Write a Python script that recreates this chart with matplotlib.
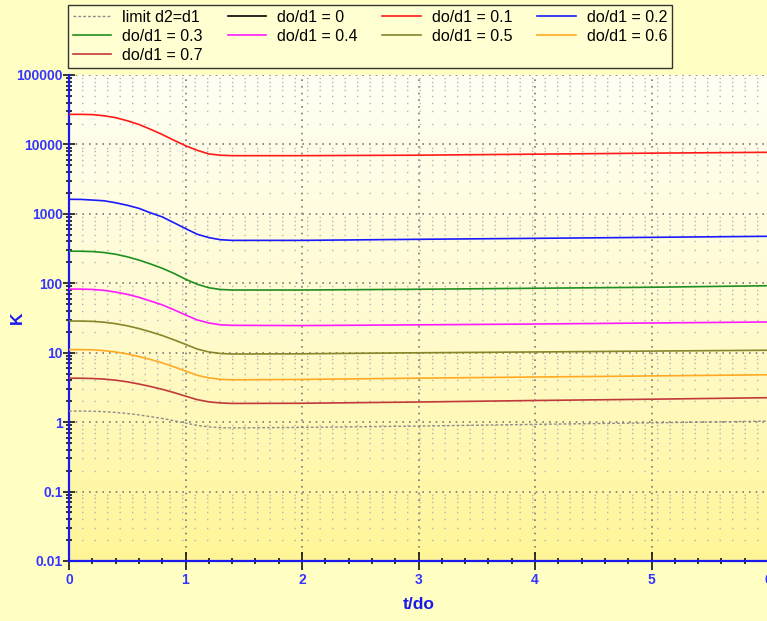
#!/usr/bin/env python3
from matplotlib import pyplot as plt
from matplotlib.colors import LinearSegmentedColormap
from matplotlib.ticker import LogLocator, FuncFormatter, MultipleLocator
import numpy as np

plt.rcParams['font.family'] = ['Liberation Sans', 'DejaVu Sans']

# t/do sample points
t_do = [0, 0.1, 0.2, 0.3, 0.4, 0.5, 0.6, 0.7, 0.8, 0.9, 1.0, 1.1, 1.2, 1.3, 1.4, 2, 3, 4, 5, 6]

k_limit = [1.44, 1.443, 1.435, 1.416, 1.38, 1.332, 1.27, 1.201, 1.13, 1.051, 0.97, 0.899, 0.855, 0.833, 0.826,
           0.84, 0.878, 0.929, 0.977, 1.034]
k_00 = []  # do/d1 = 0 is off the chart
k_01 = [27100, 27100, 26900, 25900, 24300, 21950, 19400, 16500, 13900, 11500, 9600, 8230, 7300, 6990, 6890,
        6890, 7000, 7240, 7490, 7700]
k_02 = [1620, 1615, 1580, 1544, 1445, 1330, 1200, 1034, 905, 746, 614, 509, 455, 424, 415,
        415, 430, 444, 459, 475]
k_03 = [290, 289.5, 286.5, 277.5, 262, 240.8, 216, 189.7, 164.5, 139.2, 114.6, 96.9, 86.3, 81.4, 80,
        80, 82, 84.8, 87.7, 92.2]
k_04 = [82.6, 82.4, 81.5, 79.2, 74.7, 69.4, 62.8, 55.5, 48.9, 41.6, 35.0, 29.7, 26.8, 25.2, 24.8,
        24.6, 25.2, 25.9, 26.8, 27.7]
k_05 = [28.6, 28.56, 28.3, 27.5, 26.2, 24.4, 22.3, 19.95, 17.7, 15.35, 13.2, 11.3, 10.25, 9.74, 9.59,
        9.65, 9.98, 10.25, 10.56, 10.85]
k_06 = [11.1, 11.08, 11.0, 10.72, 10.25, 9.60, 8.82, 7.98, 7.14, 6.27, 5.45, 4.74, 4.33, 4.14, 4.07,
        4.12, 4.30, 4.47, 4.63, 4.81]
k_07 = [4.30, 4.29, 4.25, 4.17, 4.02, 3.81, 3.54, 3.26, 2.97, 2.67, 2.37, 2.11, 1.96, 1.89, 1.86,
        1.87, 1.95, 2.05, 2.14, 2.25]

blue = '#1a1aee'
tick_blue = '#3535ff'

fig = plt.figure(figsize=(7.67, 6.21), dpi=100)
fig.patch.set_facecolor('#ffffc4')
ax = fig.add_axes([69/767, 60/621, 699/767, 486/621])

# pale gradient behind the plot
grad = np.linspace(0, 1, 256).reshape(-1, 1)
cmap = LinearSegmentedColormap.from_list('bg', ['#fff597', '#fffbd0', '#fffff4'])
ax.imshow(grad, cmap=cmap, extent=[0, 1, 0, 1], transform=ax.transAxes,
          aspect='auto', origin='lower', zorder=0)

h = []
h += ax.plot(t_do, k_limit, color='#8c8c8c', lw=1.0, ls=(0, (2, 1.5)), label='limit d2=d1', zorder=3)
h += ax.plot(k_00, k_00, color='black', lw=1.2, label='do/d1 = 0')
h += ax.plot(t_do, k_01, color='#ff1a1a', lw=1.2, label='do/d1 = 0.1', zorder=3)
h += ax.plot(t_do, k_02, color='#1a1aff', lw=1.2, label='do/d1 = 0.2', zorder=3)
h += ax.plot(t_do, k_03, color='#1f8f1f', lw=1.2, label='do/d1 = 0.3', zorder=3)
h += ax.plot(t_do, k_04, color='#ff1aff', lw=1.2, label='do/d1 = 0.4', zorder=3)
h += ax.plot(t_do, k_05, color='#86862a', lw=1.2, label='do/d1 = 0.5', zorder=3)
h += ax.plot(t_do, k_06, color='#ffaa22', lw=1.2, label='do/d1 = 0.6', zorder=3)
h += ax.plot(t_do, k_07, color='#c03a3a', lw=1.2, label='do/d1 = 0.7', zorder=3)

ax.set_yscale('log')
ax.set_xlim(0, 6)
ax.set_ylim(0.01, 100000)
ax.xaxis.set_major_locator(MultipleLocator(1))
ax.xaxis.set_minor_locator(MultipleLocator(0.2))
ax.yaxis.set_major_locator(LogLocator(base=10, numticks=20))
ax.yaxis.set_minor_locator(LogLocator(base=10, subs=np.arange(2, 10), numticks=100))
ax.yaxis.set_major_formatter(FuncFormatter(lambda v, p: '%g' % v))
ax.yaxis.set_minor_formatter(FuncFormatter(lambda v, p: ''))

ax.grid(True, which='major', color='#7a7a7a', ls=(0, (1, 3)), lw=1.2, zorder=1)
ax.grid(True, which='minor', axis='y', color='#b4b4b4', ls=(0, (1, 8)), lw=1.0, zorder=1)
ax.set_axisbelow(True)

for s in ['top', 'right']:
	ax.spines[s].set_visible(False)
for s in ['left', 'bottom']:
	ax.spines[s].set_color(blue)
	ax.spines[s].set_linewidth(1.6)

ax.tick_params(axis='both', which='both', direction='inout', color='black', width=1.1)
ax.tick_params(axis='x', which='major', length=13, pad=2.5)
ax.tick_params(axis='x', which='minor', length=5)
ax.tick_params(axis='y', which='major', length=9, pad=0)
ax.tick_params(axis='y', which='minor', length=5)
ax.tick_params(axis='both', which='major', labelcolor=tick_blue, labelsize=10)
for lb in ax.get_xticklabels() + ax.get_yticklabels():
	lb.set_fontweight('bold')

ax.set_xlabel('t/do', color=blue, fontsize=12.5, fontweight='bold')
ax.set_ylabel('K', color=blue, fontsize=12.5, fontweight='bold')
ax.xaxis.set_label_coords(0.5, -0.075)
ax.yaxis.set_label_coords(-0.063, 0.5)

# legend is filled column by column, so reorder to read row by row
order = [0, 4, 8, 1, 5, 2, 6, 3, 7]
hs = [h[i] for i in order]
leg = fig.legend(hs, [x.get_label() for x in hs], loc='upper left',
                 bbox_to_anchor=(68/767, 1 - 5/621), ncol=4,
                 fontsize=11.5, frameon=True, fancybox=False, edgecolor='#333333',
                 facecolor='#ffffd2', framealpha=1, borderaxespad=0, borderpad=0.3,
                 labelspacing=0.25, handlelength=2.4, handletextpad=0.7, columnspacing=1.55)
leg.get_frame().set_linewidth(1.0)

fig.savefig('out.png', dpi=100, facecolor=fig.get_facecolor())
plt.close(fig)
